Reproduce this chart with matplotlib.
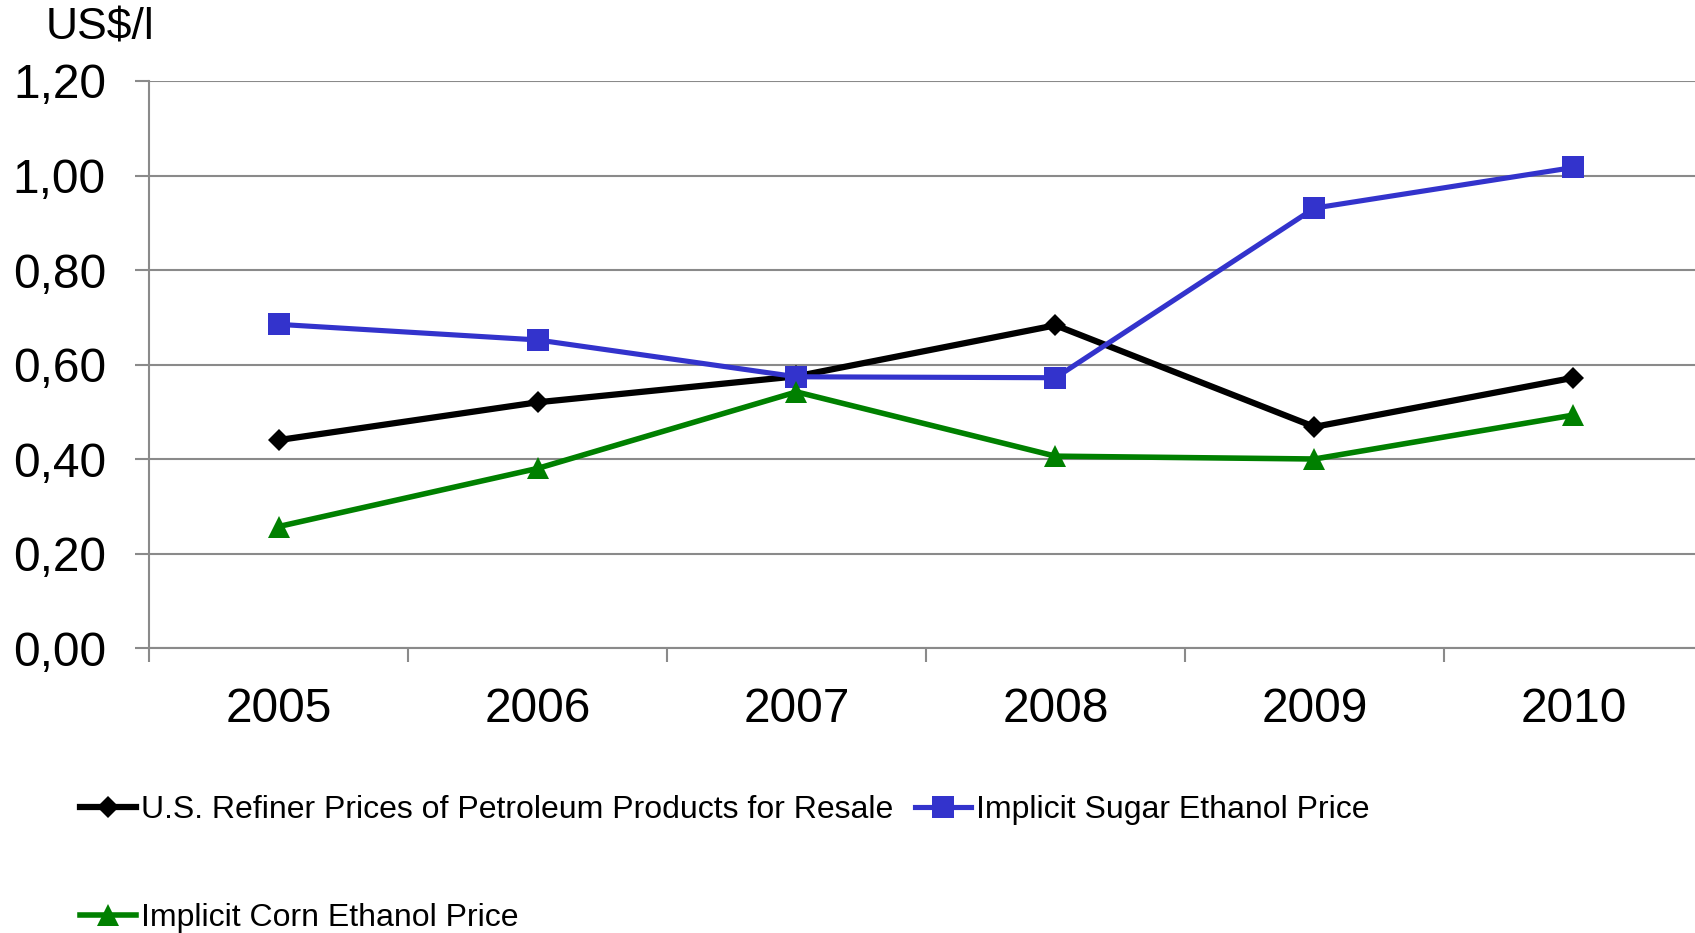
import matplotlib
matplotlib.use("Agg")
import matplotlib.pyplot as plt
from matplotlib.ticker import FixedLocator

plt.rcParams['font.family'] = ['Liberation Sans', 'DejaVu Sans']

# Data (US$ per litre)
years = ["2005", "2006", "2007", "2008", "2009", "2010"]
refiner_prices = [0.44, 0.52, 0.575, 0.683, 0.468, 0.572]
sugar_ethanol = [0.685, 0.652, 0.574, 0.572, 0.931, 1.017]
corn_ethanol = [0.257, 0.380, 0.542, 0.406, 0.400, 0.493]

label_refiner = "U.S. Refiner Prices of Petroleum Products for Resale"
label_sugar = "Implicit Sugar Ethanol Price"
label_corn = "Implicit Corn Ethanol Price"
y_ticks = [0.0, 0.2, 0.4, 0.6, 0.8, 1.0, 1.2]
y_tick_labels = ["0,00", "0,20", "0,40", "0,60", "0,80", "1,00", "1,20"]

W, H = 1695, 933
fig = plt.figure(figsize=(W / 100, H / 100), dpi=100)
ax = fig.add_axes([149 / W, 1 - 648 / H, (1703 - 149) / W, (648 - 81) / H])

grey = "#8a8a8a"
x = list(range(len(years)))

l1, = ax.plot(x, refiner_prices, color="black", lw=4.5, marker="D",
              markersize=11.5, markeredgewidth=0, label=label_refiner, zorder=3)
l2, = ax.plot(x, sugar_ethanol, color="#3333CC", lw=3.7, marker="s",
              markersize=15.5, markeredgewidth=0, label=label_sugar, zorder=4)
l3, = ax.plot(x, corn_ethanol, color="#008000", lw=4.0, marker="^",
              markersize=16, markeredgewidth=0, label=label_corn, zorder=5)

ax.set_xlim(-0.5, len(years) - 0.5)
ax.set_ylim(0, 1.2)

# y axis
ax.set_yticks(y_ticks)
ax.set_yticklabels(y_tick_labels)
ax.yaxis.grid(True, color=grey, lw=1.5)
ax.tick_params(axis="y", length=10, width=1.5, color=grey, pad=21,
               labelsize=34.5, direction="out")

# x axis: tick marks between categories, labels centred on categories
ax.xaxis.set_major_locator(FixedLocator([i - 0.5 for i in range(len(years) + 1)]))
ax.xaxis.set_minor_locator(FixedLocator(x))
ax.set_xticklabels([""] * (len(years) + 1))
ax.set_xticklabels(years, minor=True)
ax.tick_params(axis="x", which="major", length=10, width=1.5, color=grey,
               direction="out")
ax.tick_params(axis="x", which="minor", length=0, pad=28, labelsize=34.5)

for side in ("top", "right"):
    ax.spines[side].set_visible(False)
for side in ("left", "bottom"):
    ax.spines[side].set_color(grey)
    ax.spines[side].set_linewidth(1.5)
ax.set_axisbelow(True)

fig.text(46 / W, 1 - 39 / H, "US$/l", fontsize=32, ha="left", va="baseline")

leg = fig.legend([l1, l3, l2], [label_refiner, label_corn, label_sugar],
                 ncol=2, loc="upper left", bbox_to_anchor=(80 / W, 1 - 795 / H),
                 frameon=False, fontsize=23, borderpad=0, borderaxespad=0,
                 handlelength=1.75, handletextpad=0.15, columnspacing=0.7,
                 labelspacing=2.45, numpoints=1)

fig.savefig("out.png", dpi=100)
